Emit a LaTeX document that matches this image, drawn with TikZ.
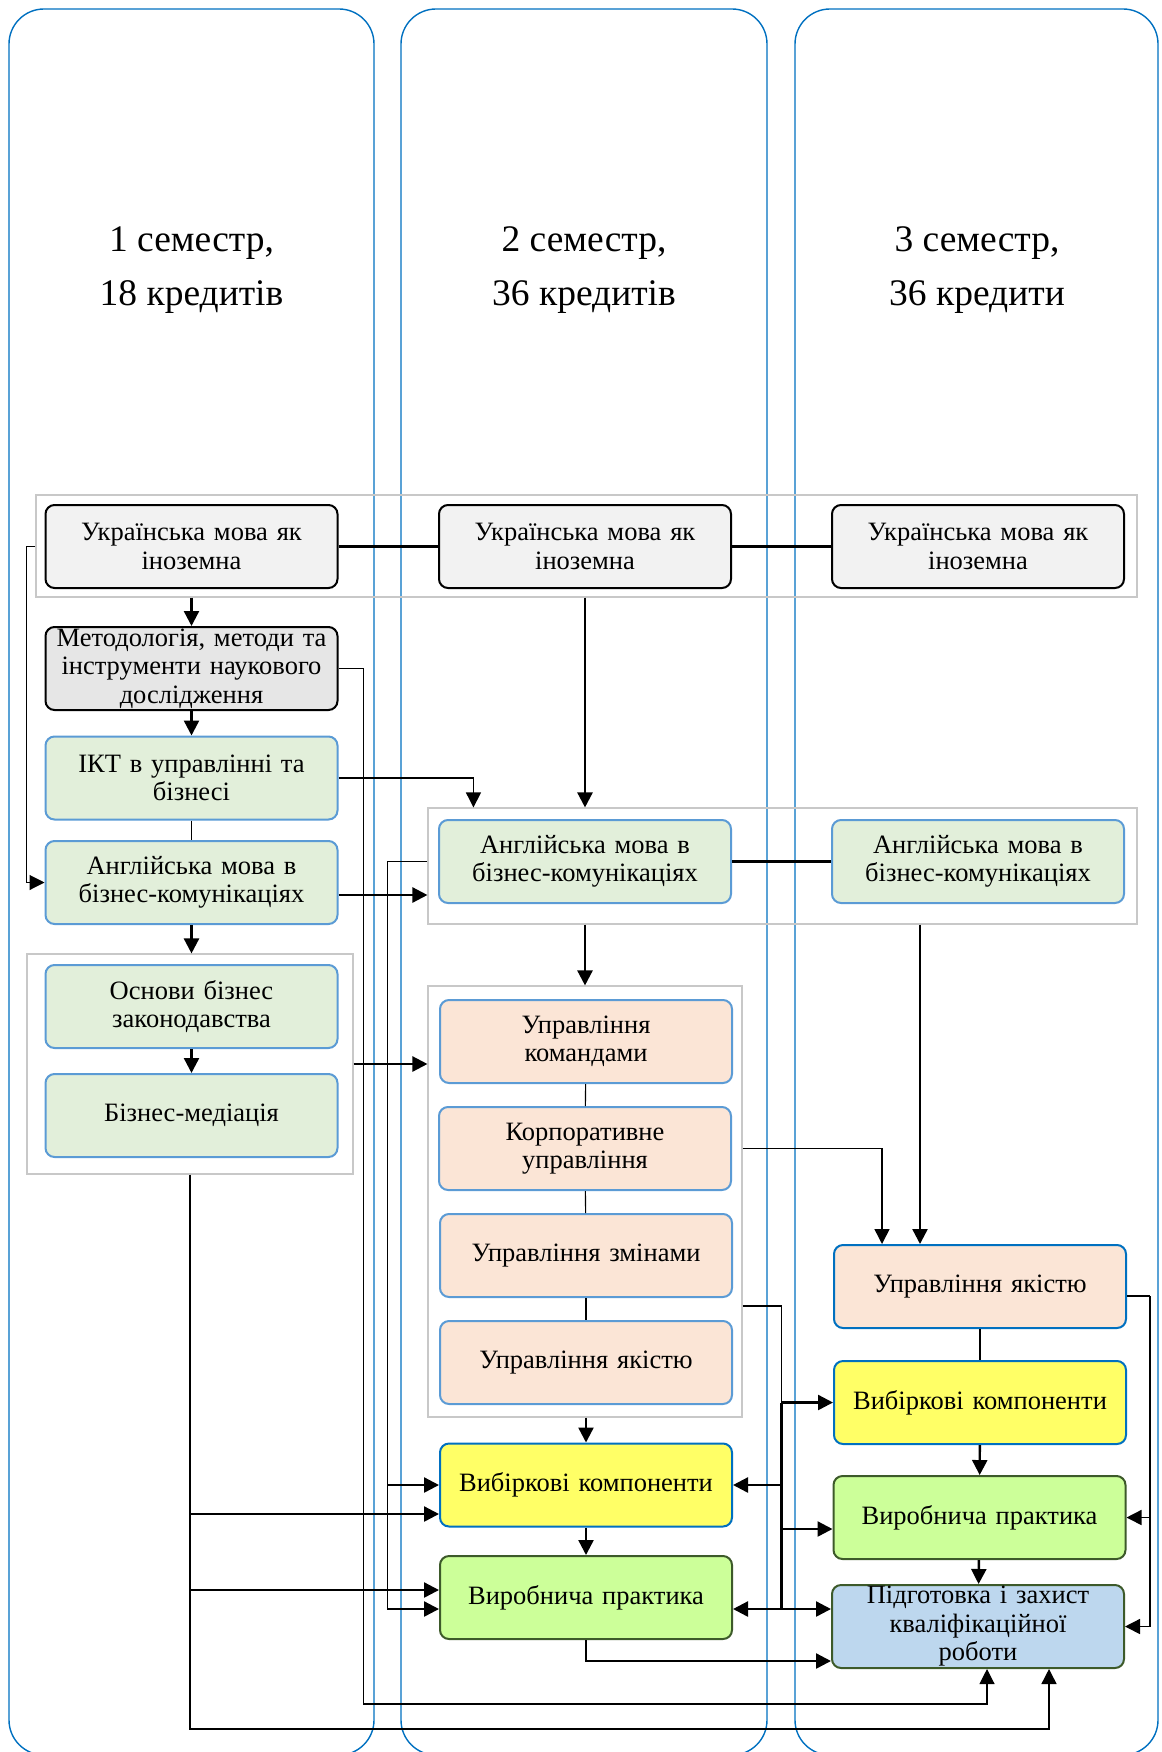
\documentclass[tikz,border=0pt]{standalone}
\usepackage{fontspec}
\setmainfont{Liberation Serif}
\usetikzlibrary{arrows.meta,fit}

\definecolor{semblue}{HTML}{0070C0}
\definecolor{grpgray}{HTML}{C8C8C8}
\definecolor{ukrfill}{HTML}{F2F2F2}
\definecolor{methfill}{HTML}{E6E6E6}
\definecolor{softblue}{HTML}{5B9BD5}
\definecolor{greenfill}{HTML}{E2EFDA}
\definecolor{peachfill}{HTML}{FBE5D6}
\definecolor{yellowfill}{HTML}{FFFF66}
\definecolor{limefill}{HTML}{CCFF99}
\definecolor{darkgreen}{HTML}{3D5A2A}
\definecolor{thesisfill}{HTML}{BDD7EE}

\begin{document}
\begin{tikzpicture}[x=1pt,y=-1pt,
	semcol/.style={draw=semblue, line width=1.4pt, rounded corners=35pt},
	grp/.style={draw=grpgray, line width=1.1pt, inner sep=0pt},
	course/.style={rounded corners=9pt, line width=2pt, minimum width=292pt, minimum height=83pt,
		text width=290pt, inner xsep=1pt, inner ysep=0pt, align=center, font=\fontsize{26.5}{28.5}\selectfont},
	ukr/.style={course, draw=black, fill=ukrfill},
	meth/.style={course, draw=black, fill=methfill},
	green/.style={course, draw=softblue, fill=greenfill},
	mgmt/.style={course, draw=softblue, fill=peachfill},
	mgmtc/.style={course, draw=semblue, fill=peachfill},
	elect/.style={course, draw=semblue, fill=yellowfill},
	prac/.style={course, draw=darkgreen, fill=limefill},
	thesis/.style={course, draw=darkgreen, fill=thesisfill},
	title/.style={align=center, font=\fontsize{37.5}{54}\selectfont},
	ln/.style={line width=1.1pt},
	lnm/.style={line width=1.5pt},
	lnb/.style={line width=2.4pt},
	arr/.style={-{Triangle[length=15pt,width=15pt]}},
	dbl/.style={{Triangle[length=15pt,width=15pt]}-{Triangle[length=15pt,width=15pt]}}
	]
	\useasboundingbox (0,0) rectangle (1161,1752);

	% semesters
	\draw[semcol] (9,9) rectangle (374,1755);
	\draw[semcol] (401,9) rectangle (767,1755);
	\draw[semcol] (795,9) rectangle (1158,1755);
	\node[title] (semA) at (191.5,270) {1 семестр,\\18 кредитів};
	\node[title] (semB) at (584,270) {2 семестр,\\36 кредитів};
	\node[title] (semC) at (977,270) {3 семестр,\\36 кредити};

	% groups
	\node[grp, fit={(36,495) (1137,597)}] (gUkr) {};
	\node[grp, fit={(428,808) (1137,924)}] (gEng) {};
	\node[grp, fit={(27,954) (353,1174)}] (gLaw) {};
	\node[grp, fit={(428,986) (742,1417)}] (gMgmt) {};

	% 1 semester
	\node[ukr] (ukrA) at (191.5,546.5) {Українська мова як\\іноземна};
	\node[meth] (methA) at (191.5,668.5) {Методологія, методи та\\інструменти наукового\\дослідження};
	\node[green] (iktA) at (191.5,778) {ІКТ в управлінні та\\бізнесі};
	\node[green] (engA) at (191.5,882.5) {Англійська мова в\\бізнес-комунікаціях};
	\node[green] (lawA) at (191.5,1006.5) {Основи бізнес\\законодавства};
	\node[green] (medA) at (191.5,1115.5) {Бізнес-медіація};

	% 2 semester
	\node[ukr] (ukrB) at (585,546.5) {Українська мова як\\іноземна};
	\node[green] (engB) at (585,861.5) {Англійська мова в\\бізнес-комунікаціях};
	\node[mgmt] (teamB) at (586,1041.5) {Управління\\командами};
	\node[mgmt] (corpB) at (585,1148.5) {Корпоративне\\управління};
	\node[mgmt] (changeB) at (586,1255.5) {Управління змінами};
	\node[mgmt] (qualB) at (586,1362.5) {Управління якістю};
	\node[elect] (electB) at (586,1485) {Вибіркові компоненти};
	\node[prac] (pracB) at (586,1597.5) {Виробнича практика};

	% 3 semester
	\node[ukr] (ukrC) at (978,546.5) {Українська мова як\\іноземна};
	\node[green] (engC) at (978,861.5) {Англійська мова в\\бізнес-комунікаціях};
	\node[mgmtc] (qualC) at (980,1286.5) {Управління якістю};
	\node[elect] (electC) at (980,1402.5) {Вибіркові компоненти};
	\node[prac] (pracC) at (979.5,1517.5) {Виробнича практика};
	\node[thesis] (thesis) at (978,1626.5) {Підготовка і захист\\кваліфікаційної\\роботи};

	% links inside rows
	\draw[lnb] (ukrA) -- (ukrB);
	\draw[lnb] (ukrB) -- (ukrC);
	\draw[lnb] (engB) -- (engC);

	% column 1
	\draw[lnb,arr] (gUkr.south -| ukrA) -- (methA);
	\draw[lnb,arr] (methA) -- (iktA);
	\draw[ln] (iktA) -- (engA);
	\draw[lnb,arr] (engA.south) -- (engA.south |- gLaw.north);
	\draw[lnb,arr] (lawA) -- (medA);
	\draw[ln,arr] (gUkr.west |- ukrA) -- ++(-9,0) |- (engA.west);

	% column 1 -> column 2
	\coordinate (iktIn) at ([xshift=46pt]gEng.north west);
	\draw[ln,arr] (iktA.east) -| (iktIn);
	\coordinate (engOut) at ([yshift=-12.5pt]engA.east);
	\draw[lnb,arr] (engOut) -- (engOut -| gEng.west);
	\draw[lnb,arr] (gLaw.east) -- (gLaw.east -| gMgmt.west);

	% column 2
	\draw[lnb,arr] (gUkr.south -| ukrB) -- (gEng.north -| ukrB);
	\draw[lnb,arr] (gEng.south -| engB) -- (gMgmt.north -| engB);
	\draw[ln] (teamB) -- (corpB);
	\draw[ln] (corpB) -- (changeB);
	\draw[ln] (changeB) -- (qualB);
	\draw[lnb,arr] (gMgmt.south -| electB) -- (electB);
	\draw[lnb,arr] (electB) -- (pracB);

	% from the English group down to column 2
	\coordinate (busB) at ([xshift=-40pt]gEng.west);
	\coordinate (pracBin) at ([yshift=-11.5pt]pracB.west);
	\draw[ln] (gEng.west |- engB) -| (busB |- pracBin);
	\draw[lnb,arr] (busB |- pracBin) -- (pracBin);
	\draw[lnb,arr] (busB |- electB.west) -- (electB.west);

	% from the law group down to column 2 and the thesis
	\coordinate (electBin) at ([yshift=-29pt]electB.west);
	\coordinate (pracBin2) at ([yshift=7.5pt]pracB.west);
	\draw[lnm,arr] (gLaw.south) |- ([xshift=71pt,yshift=-60pt]thesis.south) -- ([xshift=71pt]thesis.south);
	\draw[lnb,arr] (gLaw.south |- electBin) -- (electBin);
	\draw[lnb,arr] (gLaw.south |- pracBin2) -- (pracBin2);

	% from methodology to the thesis
	\draw[ln,arr] (methA.east) -- ++(25,0) |- ([xshift=9pt,yshift=-35pt]thesis.south) -- ([xshift=9pt]thesis.south);

	% column 2 -> column 3
	\coordinate (qIn) at ([xshift=-98pt]qualC.north);
	\draw[lnm,arr] (gMgmt.east |- corpB) -| (qIn);
	\coordinate (qIn2) at ([xshift=-60pt]qualC.north);
	\draw[lnb,arr] (qIn2 |- gEng.south) -- (qIn2);
	\coordinate (mOut) at ([yshift=-8pt]changeB.south);
	\coordinate (busC) at ([xshift=39pt]gMgmt.east);
	\coordinate (pracBout) at ([yshift=-11.5pt]pracB.east);
	\coordinate (pracCin) at ([yshift=-11.5pt]pracC.west);
	\draw[ln] (gMgmt.east |- mOut) -| (busC |- electC);
	\draw[lnb] (busC |- electC) -- (busC |- pracBout);
	\draw[lnb,arr] (busC |- electC) -- (electC.west);
	\draw[lnb,arr] (busC |- electB.east) -- (electB.east);
	\draw[lnb,arr] (busC |- pracCin) -- (pracCin);
	\draw[lnb,dbl] (pracBout) -- (pracBout -| thesis.west);
	\draw[lnb,arr] (pracB.south) |- ([yshift=-34.5pt]thesis.west);

	% column 3
	\draw[ln] (qualC) -- (electC);
	\draw[lnb,arr] (electC) -- (pracC);
	\draw[lnb,arr] (pracC) -- (thesis);
	\coordinate (qOut) at ([yshift=-9.5pt]qualC.east);
	\coordinate (busD) at ([xshift=23pt]qOut);
	\draw[ln] (qOut) -- (busD);
	\draw[lnm,arr] (busD) |- (thesis.east);
	\draw[lnm,arr] (busD |- pracC.east) -- (pracC.east);
\end{tikzpicture}
\end{document}
